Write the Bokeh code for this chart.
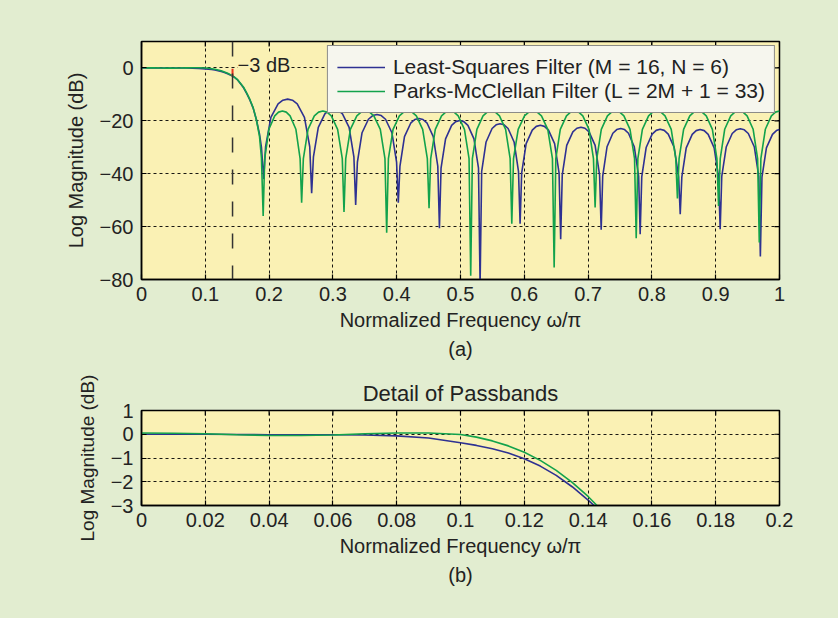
import math
from bokeh.plotting import figure
from bokeh.models import (ColumnDataSource, FixedTicker, Range1d, Span,
                          Label, Legend, LegendItem, Title)
from bokeh.layouts import column
from bokeh.embed import file_html
from bokeh.resources import INLINE

# ---------------- data ----------------
ls_freq = [0, 0.01, 0.02, 0.03, 0.04, 0.05, 0.06, 0.07, 0.08, 0.09, 0.1, 0.105, 0.11, 0.115,
           0.12, 0.125, 0.13, 0.135, 0.14, 0.1419, 0.145, 0.15, 0.155, 0.16, 0.165, 0.17,
           0.175, 0.18, 0.185, 0.188, 0.1915,
           0.1945, 0.2028, 0.2141, 0.2216, 0.2291, 0.2366, 0.2441, 0.2554, 0.2637, 0.2667,
           0.2695, 0.2771, 0.2874, 0.2943, 0.3012, 0.3081, 0.315, 0.3254, 0.3329, 0.3357,
           0.3384, 0.3457, 0.3557, 0.3624, 0.3691, 0.3758, 0.3825, 0.3925, 0.3998, 0.4025,
           0.4051, 0.4122, 0.4219, 0.4283, 0.4348, 0.4412, 0.4477, 0.4573, 0.4644, 0.467,
           0.4695, 0.4766, 0.4861, 0.4925, 0.4989, 0.5052, 0.5116, 0.5211, 0.5282, 0.5307,
           0.5332, 0.5401, 0.5495, 0.5558, 0.5621, 0.5683, 0.5746, 0.584, 0.5909, 0.5934,
           0.5959, 0.6029, 0.6125, 0.6188, 0.6252, 0.6316, 0.6379, 0.6475, 0.6545, 0.657,
           0.6595, 0.6665, 0.6761, 0.6824, 0.6888, 0.6951, 0.7015, 0.711, 0.718, 0.7205,
           0.7229, 0.7297, 0.7388, 0.7449, 0.7511, 0.7572, 0.7633, 0.7724, 0.7792, 0.7816,
           0.7841, 0.791, 0.8004, 0.8067, 0.813, 0.8193, 0.8256, 0.835, 0.8419, 0.8444,
           0.8469, 0.8538, 0.8632, 0.8694, 0.8757, 0.882, 0.8882, 0.8976, 0.9045, 0.907,
           0.9095, 0.9165, 0.9259, 0.9322, 0.9385, 0.9448, 0.9511, 0.9606, 0.9675, 0.97,
           0.9725, 0.9795, 0.989, 0.9952, 1.0]
ls_db = [0.0, 0.0, 0.0, -0.01, -0.02, -0.02, -0.02, -0.03, -0.07, -0.16, -0.36, -0.47, -0.61, -0.79,
         -1.03, -1.34, -1.73, -2.21, -2.77, -3.0, -3.42, -4.4, -5.9, -7.5, -9.7, -12.2,
         -15.2, -19.5, -25.0, -30.0, -42.0,
         -29.8, -18.7, -13.6, -12.2, -11.8, -12.2, -13.6, -18.7, -29.8, -47.4,
         -33.6, -22.5, -17.4, -16.0, -15.6, -16.0, -17.4, -22.5, -33.6, -51.8,
         -35.6, -24.5, -19.4, -18.0, -17.6, -18.0, -19.4, -24.5, -35.6, -51.0,
         -37.1, -26.0, -20.9, -19.5, -19.1, -19.5, -20.9, -26.0, -37.1, -60.6,
         -37.9, -26.8, -21.7, -20.3, -19.9, -20.3, -21.7, -26.8, -37.9, -82.0,
         -39.1, -28.0, -22.9, -21.5, -21.1, -21.5, -22.9, -28.0, -39.1, -58.9,
         -39.7, -28.6, -23.5, -22.1, -21.7, -22.1, -23.5, -28.6, -39.7, -64.8,
         -40.4, -29.3, -24.2, -22.8, -22.4, -22.8, -24.2, -29.3, -40.4, -61.2,
         -40.9, -29.8, -24.7, -23.3, -22.9, -23.3, -24.7, -29.8, -40.9, -62.9,
         -41.2, -30.1, -25.0, -23.6, -23.2, -23.6, -25.0, -30.1, -41.2, -55.3,
         -41.3, -30.2, -25.1, -23.7, -23.3, -23.7, -25.1, -30.2, -41.3, -61.0,
         -41.0, -29.9, -24.8, -23.4, -23.0, -23.4, -24.8, -29.9, -41.0, -71.3,
         -41.3, -30.2, -25.1, -23.7, -23.3]

pm_freq = [0, 0.01, 0.02, 0.03, 0.04, 0.05, 0.06, 0.07, 0.08, 0.09, 0.1, 0.105, 0.11, 0.115,
           0.12, 0.125, 0.13, 0.135, 0.14, 0.1424, 0.145, 0.15, 0.155, 0.16, 0.165, 0.17,
           0.175, 0.18, 0.185, 0.188, 0.1907,
           0.1931, 0.1997, 0.2088, 0.2148, 0.2209, 0.2269, 0.2329, 0.242, 0.2486, 0.251,
           0.2537, 0.261, 0.2709, 0.2776, 0.2842, 0.2908, 0.2975, 0.3074, 0.3147, 0.3174,
           0.3201, 0.3274, 0.3375, 0.3442, 0.3509, 0.3575, 0.3642, 0.3743, 0.3816, 0.3843,
           0.387, 0.3943, 0.4042, 0.4109, 0.4175, 0.4241, 0.4308, 0.4407, 0.448, 0.4507,
           0.4533, 0.4605, 0.4703, 0.4768, 0.4834, 0.4899, 0.4964, 0.5062, 0.5134, 0.516,
           0.5186, 0.5257, 0.5353, 0.5418, 0.5482, 0.5546, 0.5611, 0.5707, 0.5778, 0.5804,
           0.5831, 0.5904, 0.6003, 0.607, 0.6136, 0.6202, 0.6269, 0.6368, 0.6441, 0.6468,
           0.6494, 0.6564, 0.6661, 0.6725, 0.6789, 0.6853, 0.6917, 0.7014, 0.7084, 0.711,
           0.7136, 0.7207, 0.7303, 0.7368, 0.7432, 0.7496, 0.7561, 0.7657, 0.7728, 0.7754,
           0.778, 0.7851, 0.7948, 0.8012, 0.8077, 0.8142, 0.8206, 0.8303, 0.8374, 0.84,
           0.8426, 0.8497, 0.8594, 0.8658, 0.8723, 0.8787, 0.8852, 0.8948, 0.9019, 0.9045,
           0.9071, 0.9141, 0.9236, 0.93, 0.9364, 0.9428, 0.9492, 0.9587, 0.9657, 0.9683,
           0.9708, 0.9778, 0.9873, 0.9937, 1.0]
pm_db = [0.05, 0.04, 0.02, -0.02, -0.05, -0.05, -0.03, 0.02, 0.05, 0.05, -0.01, -0.12, -0.28, -0.49,
         -0.76, -1.1, -1.52, -2.03, -2.62, -2.95, -3.35, -4.3, -5.8, -7.3, -9.5, -12.0,
         -15.0, -19.5, -26.0, -34.0, -56.0,
         -34.3, -23.2, -18.1, -16.7, -16.3, -16.7, -18.1, -23.2, -34.3, -51.0,
         -34.3, -23.2, -18.1, -16.7, -16.3, -16.7, -18.1, -23.2, -34.3, -54.5,
         -34.3, -23.2, -18.1, -16.7, -16.3, -16.7, -18.1, -23.2, -34.3, -62.3,
         -34.3, -23.2, -18.1, -16.7, -16.3, -16.7, -18.1, -23.2, -34.3, -53.0,
         -34.3, -23.2, -18.1, -16.7, -16.3, -16.7, -18.1, -23.2, -34.3, -78.6,
         -34.3, -23.2, -18.1, -16.7, -16.3, -16.7, -18.1, -23.2, -34.3, -58.9,
         -34.3, -23.2, -18.1, -16.7, -16.3, -16.7, -18.1, -23.2, -34.3, -75.5,
         -34.3, -23.2, -18.1, -16.7, -16.3, -16.7, -18.1, -23.2, -34.3, -52.8,
         -34.3, -23.2, -18.1, -16.7, -16.3, -16.7, -18.1, -23.2, -34.3, -64.4,
         -34.3, -23.2, -18.1, -16.7, -16.3, -16.7, -18.1, -23.2, -34.3, -49.4,
         -34.3, -23.2, -18.1, -16.7, -16.3, -16.7, -18.1, -23.2, -34.3, -52.2,
         -34.3, -23.2, -18.1, -16.7, -16.3, -16.7, -18.1, -23.2, -34.3, -66.0,
         -34.3, -23.2, -18.1, -16.7, -16.3]

cutoff_freq = 0.1427
cutoff_db = -3.0

top_xrange = [0, 1]
top_yrange = [-80, 10]
bot_xrange = [0, 0.2]
bot_yrange = [-3, 1]
top_xticks = [0, 0.1, 0.2, 0.3, 0.4, 0.5, 0.6, 0.7, 0.8, 0.9, 1.0]
top_xlabels = ["0", "0.1", "0.2", "0.3", "0.4", "0.5", "0.6", "0.7", "0.8", "0.9", "1"]
top_yticks = [-80, -60, -40, -20, 0]
top_ylabels = ["\u221280", "\u221260", "\u221240", "\u221220", "0"]
bot_xticks = [0, 0.02, 0.04, 0.06, 0.08, 0.1, 0.12, 0.14, 0.16, 0.18, 0.2]
bot_xlabels = ["0", "0.02", "0.04", "0.06", "0.08", "0.1", "0.12", "0.14", "0.16", "0.18", "0.2"]
bot_yticks = [-3, -2, -1, 0, 1]
bot_ylabels = ["\u22123", "\u22122", "\u22121", "0", "1"]

legend_labels = ["Least-Squares Filter (M = 16, N = 6)",
                 "Parks-McClellan Filter (L = 2M + 1 = 33)"]

# ---------------- style ----------------
FONT = "Liberation Sans"
BG = "#e2edd0"
PLOT_BG = "#faf1b4"
BLUE = "#2e3192"
GREEN = "#12a24c"
TXT = "#222222"
FS = "20px"

src_ls = ColumnDataSource(dict(f=ls_freq, db=ls_db))
src_pm = ColumnDataSource(dict(f=pm_freq, db=pm_db))


def style(p, xr, yr, xticks, xlabels, yticks, ylabels, ylabel_size=FS):
    p.background_fill_color = PLOT_BG
    p.border_fill_color = BG
    p.outline_line_color = "black"
    p.outline_line_width = 1.5
    xax, yax = p.below[0], p.left[0]
    xax.ticker = FixedTicker(ticks=xticks)
    yax.ticker = FixedTicker(ticks=yticks)
    xax.major_label_overrides = {float(t): l for t, l in zip(xticks, xlabels)}
    yax.major_label_overrides = {float(t): l for t, l in zip(yticks, ylabels)}
    p.xgrid.ticker = FixedTicker(ticks=xticks)
    p.ygrid.ticker = FixedTicker(ticks=yticks)
    for g in (p.xgrid, p.ygrid):
        g.grid_line_color = "black"
        g.grid_line_dash = "3 3"
        g.grid_line_width = 1
        g.grid_line_alpha = 0.9
    for ax in (xax, yax):
        ax.axis_line_color = "black"
        ax.axis_line_width = 1.5
        ax.major_tick_in = 5
        ax.major_tick_out = 0
        ax.major_tick_line_color = "black"
        ax.major_tick_line_width = 1.2
        ax.minor_tick_line_color = None
        ax.major_label_text_font = FONT
        ax.major_label_text_font_size = FS
        ax.major_label_text_color = TXT
        ax.axis_label_text_font = FONT
        ax.axis_label_text_font_size = FS
        ax.axis_label_text_font_style = "normal"
        ax.axis_label_text_color = TXT
    yax.axis_label_text_font_size = ylabel_size
    xax.major_label_standoff = 7
    yax.major_label_standoff = 8
    xax.axis_label_standoff = 5
    yax.axis_label_standoff = 10
    xax.axis_label = "Normalized Frequency \u03c9/\u03c0"
    yax.axis_label = "Log Magnitude (dB)"
    # inward box ticks along the top and right edges (half of each dash is clipped)
    p.scatter(x=xticks, y=[yr[1]] * len(xticks), marker="dash", angle=math.pi / 2,
              size=10, line_color="black", line_width=1.2)
    p.scatter(x=[xr[1]] * len(yticks), y=yticks, marker="dash", angle=0,
              size=10, line_color="black", line_width=1.2)


# ---------------- top plot ----------------
p1 = figure(width=838, height=366, x_range=Range1d(*top_xrange), y_range=Range1d(*top_yrange),
            output_backend="svg", toolbar_location=None,
            min_border_left=141, min_border_right=59, min_border_top=41, min_border_bottom=87)
style(p1, top_xrange, top_yrange, top_xticks, top_xlabels, top_yticks, top_ylabels)

p1.add_layout(Span(location=cutoff_freq, dimension="height", line_color="#333333",
                   line_width=1.5, line_dash="15 17"))
r_ls = p1.line("f", "db", source=src_ls, line_color=BLUE, line_width=1.6)
r_pm = p1.line("f", "db", source=src_pm, line_color=GREEN, line_width=1.6)
p1.segment(x0=[cutoff_freq], y0=[-0.3], x1=[cutoff_freq], y1=[cutoff_db],
           line_color="#e8321f", line_width=2)
p1.add_layout(Label(x=0.1505, y=1.3, text="\u22123 dB", text_baseline="middle",
                    text_font=FONT, text_font_size=FS, text_color=TXT,
                    background_fill_color=PLOT_BG))

legend = Legend(items=[LegendItem(label=legend_labels[0], renderers=[r_ls]),
                       LegendItem(label=legend_labels[1], renderers=[r_pm])],
                location="top_right", label_text_font=FONT, label_text_font_size="21px",
                label_text_color=TXT, background_fill_color="#f6f6ee",
                background_fill_alpha=1, border_line_color="#222222", border_line_width=1.2,
                glyph_width=48, glyph_height=24, label_standoff=8, padding=9, spacing=0,
                margin=4)
p1.add_layout(legend)
t_a = Title(text="(a)", align="center", text_font=FONT, text_font_size=FS,
            text_font_style="normal", text_color=TXT, standoff=4)
p1.add_layout(t_a, "below")

# ---------------- bottom plot ----------------
p2 = figure(width=838, height=252, x_range=Range1d(*bot_xrange), y_range=Range1d(*bot_yrange),
            output_backend="svg", toolbar_location=None,
            min_border_left=141, min_border_right=58, min_border_top=44, min_border_bottom=113)
style(p2, bot_xrange, bot_yrange, bot_xticks, bot_xlabels, bot_yticks, bot_ylabels,
      ylabel_size="19px")
p2.line("f", "db", source=src_ls, line_color=BLUE, line_width=1.6)
p2.line("f", "db", source=src_pm, line_color=GREEN, line_width=1.6)
p2.title.text = "Detail of Passbands"
p2.title.align = "center"
p2.title.text_font = FONT
p2.title.text_font_size = "22px"
p2.title.text_font_style = "normal"
p2.title.text_color = TXT
t_b = Title(text="(b)", align="center", text_font=FONT, text_font_size=FS,
            text_font_style="normal", text_color=TXT, standoff=4)
p2.add_layout(t_b, "below")

layout = column(p1, p2, spacing=0, styles={"background-color": BG})
open("out.html", "w").write(file_html(layout, INLINE))
